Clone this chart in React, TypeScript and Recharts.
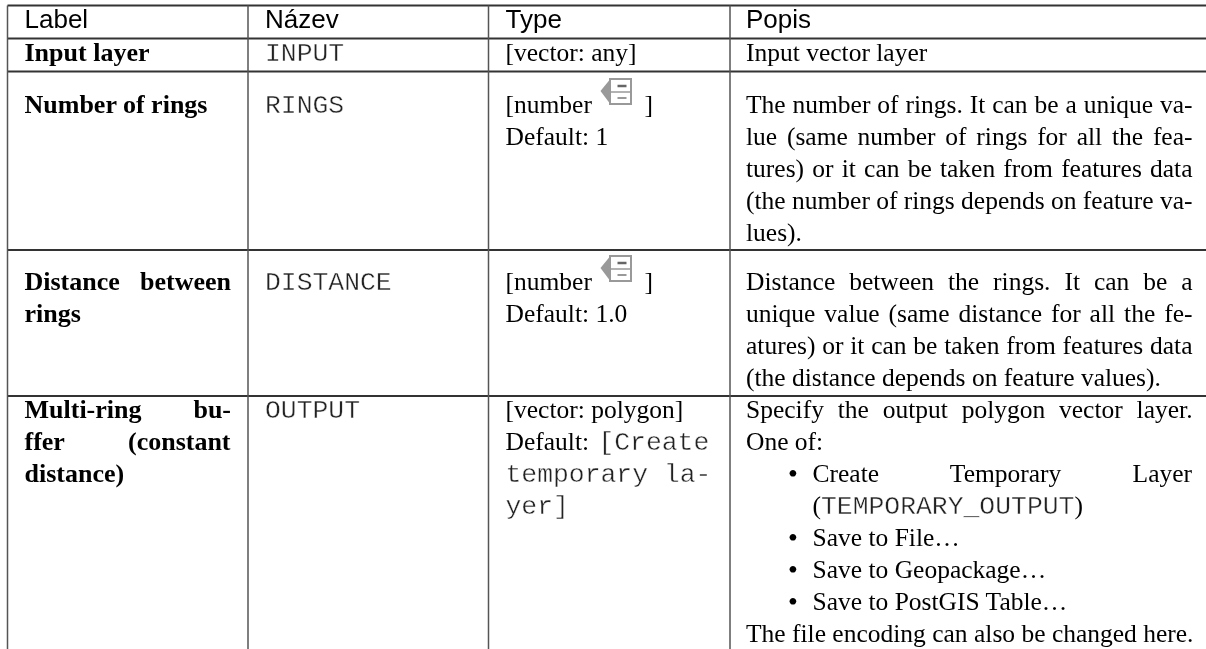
import React from "react";
import { ComposedChart, ReferenceLine, Scatter, XAxis, YAxis } from "recharts";

// ── Table content ─────────────────────────────────────────────────────────────

const headers = ["Label", "Název", "Type", "Popis"];

// One entry per table row, one string per printed line
const labelCells = [
  ["Input layer"],
  ["Number of rings"],
  ["Distance between", "rings"],
  ["Multi-ring bu-", "ffer (constant", "distance)"],
];

const nameCells = [["INPUT"], ["RINGS"], ["DISTANCE"], ["OUTPUT"]];

// `...` = monospace run, @ = data-defined override icon
const typeCells = [
  ["[vector: any]"],
  ["[number @]", "Default: 1"],
  ["[number @]", "Default: 1.0"],
  ["[vector: polygon]", "Default: `[Create`", "`temporary la-`", "`yer]`"],
];

// Description cells are split into paragraphs (last line of each is not justified)
const descriptionCells = [
  [["Input vector layer"]],
  [[
    "The number of rings. It can be a unique va-",
    "lue (same number of rings for all the fea-",
    "tures) or it can be taken from features data",
    "(the number of rings depends on feature va-",
    "lues).",
  ]],
  [[
    "Distance between the rings. It can be a",
    "unique value (same distance for all the fe-",
    "atures) or it can be taken from features data",
    "(the distance depends on feature values).",
  ]],
  [
    ["Specify the output polygon vector layer.", "One of:"],
    ["• Create Temporary Layer", "(`TEMPORARY_OUTPUT`)"],
    ["• Save to File…"],
    ["• Save to Geopackage…"],
    ["• Save to PostGIS Table…"],
    ["The file encoding can also be changed here."],
  ],
];

// ── Layout ────────────────────────────────────────────────────────────────────

const WIDTH = 1206;
const HEIGHT = 649;
const SERIF_SIZE = 25.5;
const BOLD_SIZE = 26;
const SANS_SIZE = 26;
const MONO_SIZE = 26.4;
const BULLET_SIZE = 28;
const BULLET_DROP = 1;
const LINE_HEIGHT = 32;

const SERIF = '"Liberation Serif", serif';
const SANS = '"Liberation Sans", sans-serif';
const MONO = '"Liberation Mono", monospace';

const TABLE_LEFT = 7.5;
const TABLE_TOP = 5.5;
const COLUMN_RULES = [7.5, 248, 488.5, 730];
const ROW_RULES = [5.5, 38.5, 71.5, 250, 396];
const COLUMN_TEXT = [24.5, 265, 505.5, 746];
const LABEL_RIGHT = 231;
const DESC_RIGHT = 1192.5;
const HEADER_BASELINE = 28;
const ROW_BASELINES = [61, 113, 290, 418];
const BULLET_X = 788;
const BULLET_TEXT_X = 812.5;
const MONO_RUN_GAP = 3; // extra gap before "[Create"

const TEXT_COLOR = "#000";
const MONO_COLOR = "#222";

// ── Helpers ───────────────────────────────────────────────────────────────────

type TextPoint = {
  x: number;
  y: number;
  text: string;
  font: string;
  weight?: number;
  right?: number; // justify up to this x
};

const fontSizeFor = (p: TextPoint) =>
  p.text === "•"
    ? BULLET_SIZE
    : p.font === SANS
      ? SANS_SIZE
      : p.font === MONO
        ? MONO_SIZE
        : p.weight === 700
          ? BOLD_SIZE
          : SERIF_SIZE;

const measureCtx = document.createElement("canvas").getContext("2d")!;

function wordSpacingFor(p: TextPoint) {
  if (!p.right) return 0;
  const gaps = p.text.split(" ").length - 1;
  if (gaps === 0) return 0;
  measureCtx.font = `${p.weight ?? 400} ${fontSizeFor(p)}px ${p.font}`;
  return (p.right - p.x - measureCtx.measureText(p.text).width) / gaps;
}

function simpleCellPoints(cells: string[][], col: number, font: string, weight = 400, right?: number) {
  const points: TextPoint[] = [];
  cells.forEach((lines, row) => {
    lines.forEach((text, i) => {
      points.push({
        x: COLUMN_TEXT[col],
        y: ROW_BASELINES[row] + i * LINE_HEIGHT,
        text,
        font,
        weight,
        right: right && i < lines.length - 1 ? right : undefined,
      });
    });
  });
  return points;
}

function descriptionPoints() {
  const points: TextPoint[] = [];
  descriptionCells.forEach((paragraphs, row) => {
    let line = 0;
    paragraphs.forEach((lines) => {
      const bullet = lines[0].startsWith("• ");
      lines.forEach((raw, i) => {
        const y = ROW_BASELINES[row] + line * LINE_HEIGHT;
        if (bullet && i === 0) points.push({ x: BULLET_X, y: y + BULLET_DROP, text: "•", font: SERIF });
        points.push({
          x: bullet ? BULLET_TEXT_X : COLUMN_TEXT[3],
          y,
          text: raw.replace("• ", ""),
          font: SERIF,
          right: i < lines.length - 1 ? DESC_RIGHT : undefined,
        });
        line += 1;
      });
    });
  });
  return points;
}

const headerPoints: TextPoint[] = headers.map((text, i) => ({
  x: COLUMN_TEXT[i],
  y: HEADER_BASELINE,
  text,
  font: SANS,
}));

// ── Shapes ────────────────────────────────────────────────────────────────────

function OverrideIcon({ x, y }: { x: number; y: number }) {
  // x = arrow tip, y = text baseline
  return (
    <g transform={`translate(${x} ${y - 22})`}>
      <path d="M0 0 L9 -11 L9 12 Z" fill="#999" />
      <rect x={9.5} y={-12} width={21} height={25} fill="#fff" stroke="#999" strokeWidth={2} />
      <line x1={9.5} y1={1} x2={30.5} y2={1} stroke="#999" strokeWidth={1.5} />
      <line x1={17} y1={-5} x2={26} y2={-5} stroke="#666" strokeWidth={2.5} />
      <line x1={17} y1={7} x2={26} y2={7} stroke="#777" strokeWidth={1.5} />
    </g>
  );
}

// White hairline over the glyphs: Liberation Mono is heavier than the original mono face
const monoThin = { stroke: "#fff", strokeWidth: 0.4 };

function TextMark(props: any) {
  const p: TextPoint = props.payload;
  const { cx, cy } = props;
  const size = fontSizeFor(p);

  // "[number @]" has the icon sitting between the two text pieces
  if (p.text.includes("@")) {
    const [before, after] = p.text.split("@");
    return (
      <g fontFamily={p.font} fontSize={size} fill={TEXT_COLOR}>
        <text x={cx} y={cy}>{before}</text>
        <OverrideIcon x={cx + 95} y={cy} />
        <text x={cx + 139} y={cy}>{after}</text>
      </g>
    );
  }

  const runs = p.text.split("`");
  const isMono = p.font === MONO;
  return (
    <text
      x={cx}
      y={cy}
      fontFamily={p.font}
      fontSize={size}
      fontWeight={p.weight === 700 ? 700 : 400}
      fill={isMono ? MONO_COLOR : TEXT_COLOR}
      style={{ wordSpacing: wordSpacingFor(p), whiteSpace: "pre" }}
      {...(isMono ? monoThin : {})}
    >
      {runs.map((run, i) =>
        i % 2 === 1 ? (
          <tspan
            key={i}
            fontFamily={MONO}
            fontSize={MONO_SIZE}
            fill={MONO_COLOR}
            dx={runs[i - 1].endsWith(" ") ? MONO_RUN_GAP : 0}
            {...monoThin}
          >
            {run}
          </tspan>
        ) : (
          <tspan key={i}>{run}</tspan>
        ),
      )}
    </text>
  );
}

// ── Main component ────────────────────────────────────────────────────────────

const series = [
  headerPoints,
  simpleCellPoints(labelCells, 0, SERIF, 700, LABEL_RIGHT),
  simpleCellPoints(nameCells, 1, MONO),
  simpleCellPoints(typeCells, 2, SERIF),
  descriptionPoints(),
];

export default function App() {
  return (
    <div
      style={{
        position: "absolute",
        left: 0,
        top: 0,
        width: WIDTH,
        height: HEIGHT,
        background: "#fff",
        filter: "blur(0.3px)",
      }}
    >
      <ComposedChart width={WIDTH} height={HEIGHT} margin={{ top: 0, right: 0, bottom: 0, left: 0 }}>
        <XAxis type="number" dataKey="x" domain={[0, WIDTH]} hide />
        <YAxis type="number" dataKey="y" domain={[0, HEIGHT]} reversed hide />

        {ROW_RULES.map((y) => (
          <ReferenceLine
            key={y}
            segment={[{ x: TABLE_LEFT, y }, { x: WIDTH, y }]}
            stroke="#333"
            strokeWidth={2}
          />
        ))}
        {COLUMN_RULES.map((x) => (
          <ReferenceLine
            key={x}
            segment={[{ x, y: TABLE_TOP }, { x, y: HEIGHT }]}
            stroke="#555"
            strokeWidth={1.5}
          />
        ))}

        {series.map((points, i) => (
          <Scatter key={i} data={points} shape={TextMark} isAnimationActive={false} />
        ))}
      </ComposedChart>
    </div>
  );
}
